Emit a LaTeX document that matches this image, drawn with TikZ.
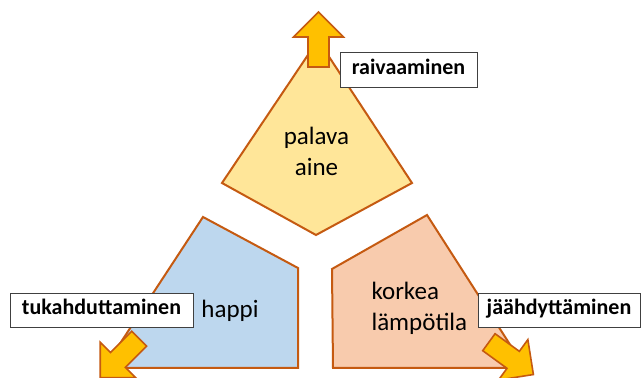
\documentclass[tikz,border=0pt]{standalone}
\usepackage{fontspec}
\setmainfont{Carlito}
\definecolor{edge}{HTML}{C55A11}
\definecolor{fuelfill}{HTML}{FFE699}
\definecolor{airfill}{HTML}{BDD7EE}
\definecolor{heatfill}{HTML}{F8CBAD}
\definecolor{arrowfill}{HTML}{FFC000}
\definecolor{boxline}{HTML}{404040}
\begin{document}
\begin{tikzpicture}[x=1pt,y=1pt,
  shapeline/.style={draw=edge, line width=2pt, line join=miter},
  blockarrow/.style={draw=edge, fill=arrowfill, line width=1.6pt, line join=miter},
  labelbox/.style={draw=boxline, fill=white, line width=0.8pt,
    font=\fontsize{22}{26}\selectfont\bfseries, inner sep=0pt,
    minimum height=34pt, text height=15pt, text depth=5pt},
  shapetext/.style={font=\fontsize{25}{31}\selectfont, align=center},
  blockarr/.pic={\filldraw[blockarrow] (0,-10.5) -- (30,-10.5) -- (30,-25) -- (55,0)
     -- (30,25) -- (30,10.5) -- (0,10.5) -- cycle;}]
\useasboundingbox (0,0) rectangle (641,378);
\fill[white] (0,0) rectangle (641,378);
% the three pieces of the fire triangle
\filldraw[shapeline, fill=fuelfill] (318,338) -- (412,195) -- (316,143) -- (222,195) -- cycle;
\filldraw[shapeline, fill=airfill] (203,161) -- (298,110) -- (298,10) -- (104,10) -- cycle;
\filldraw[shapeline, fill=heatfill] (427,163) -- (332,109) -- (333,10) -- (525,10) -- cycle;
% texts in the pieces
\node[shapetext] (fuel) at (316.5,227) {palava\\aine};
\node[shapetext] (air) at (230,67) {happi};
\node[shapetext, align=left, anchor=west] (heat) at (368,70) {korkea\\lämpötila};
% block arrows
\path (318.5,311) pic[rotate=90] {blockarr};
\path (139.1,39.3) pic[rotate=225] {blockarr};
\path (488.9,35.8) pic[rotate=-36] {blockarr};
% labels
\node[labelbox, minimum width=137pt, minimum height=35pt] (clear) at (408.5,308.5) {raivaaminen};
\node[labelbox, minimum width=183pt] (smother) at (101.5,68) {tukahduttaminen};
\node[labelbox, minimum width=162pt] (cool) at (559,68) {jäähdyttäminen};
\end{tikzpicture}
\end{document}
